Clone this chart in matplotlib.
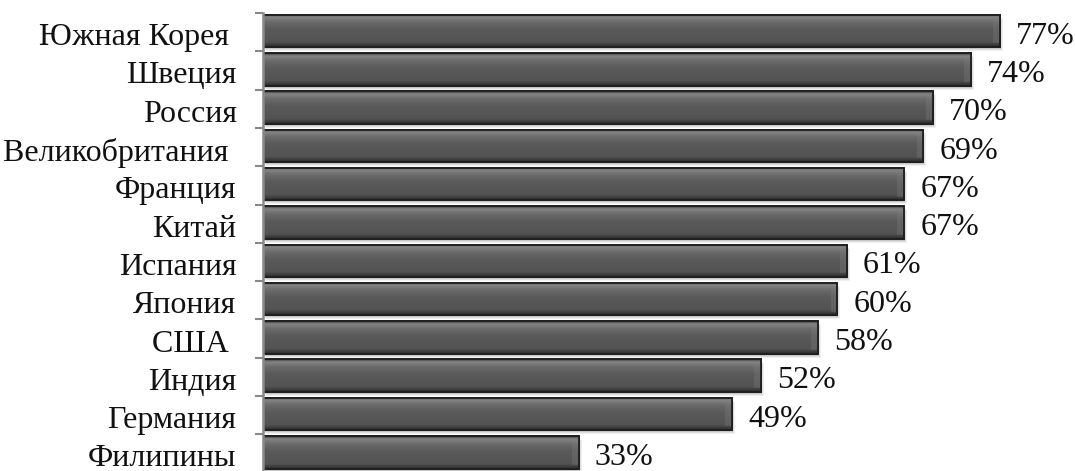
import numpy as np
import matplotlib
matplotlib.use("Agg")
import matplotlib.pyplot as plt
from matplotlib.colors import LinearSegmentedColormap
from matplotlib.patches import Rectangle
from matplotlib import transforms

countries = ["Южная Корея ", "Швеция", "Россия", "Великобритания ", "Франция", "Китай",
             "Испания", "Япония", "США ", "Индия", "Германия", "Филипины"]
shares = [77, 74, 70, 69, 67, 67, 61, 60, 58, 52, 49, 33]

plt.rcParams["font.family"] = ["Liberation Serif", "DejaVu Serif"]

fig = plt.figure(figsize=(10.75, 4.71), dpi=100)
step_px = 38.3
n = len(countries)
ax_h = step_px * n
ax = fig.add_axes([263 / 1075, (471 - 13 - ax_h) / 471, 812 / 1075, ax_h / 471])

y = np.arange(n)
bar_h = 0.85
bars = ax.barh(y - 0.03, shares, height=bar_h, color="#575757", edgecolor="#1e1e1e",
               linewidth=1.2, zorder=3)

ax.set_xlim(0, 812 / 9.57)
ax.set_ylim(n - 0.5, -0.5)

# vertical shading for the bevelled bar look
shade = LinearSegmentedColormap.from_list(
    "bevel",
    [(0.0, "#3a3a3a"), (0.08, "#868686"), (0.22, "#6c6c6c"),
     (0.45, "#5a5a5a"), (0.85, "#535353"), (1.0, "#2a2a2a")])
grad = np.linspace(0, 1, 64).reshape(-1, 1)

for b in bars:
    x0, y0 = b.get_x(), b.get_y()
    w, h = b.get_width(), b.get_height()
    # soft shadow under each bar
    for k, a in enumerate([0.10, 0.08, 0.06]):
        sh = Rectangle((x0, y0), w, h, facecolor="#000000", alpha=a,
                       edgecolor="none", zorder=1,
                       transform=transforms.offset_copy(ax.transData, fig=fig,
                                                        x=1 + k, y=-2 - k, units="dots"))
        ax.add_patch(sh)
    im = ax.imshow(grad, cmap=shade, aspect="auto", interpolation="bicubic",
                   extent=(x0, x0 + w, y0 + h, y0), zorder=4)
    im.set_clip_path(b)
    # faint bevel on the right end of the bar
    end_w = 0.7
    ax.add_patch(Rectangle((x0 + w - end_w, y0 + 0.1), end_w, h - 0.2,
                           facecolor="#808080", edgecolor="none", alpha=0.3, zorder=5))
    # outline on top
    ax.add_patch(Rectangle((x0, y0), w, h, facecolor="none", edgecolor="#1e1e1e",
                           linewidth=1.3, zorder=6))

label_off = transforms.offset_copy(ax.transData, fig=fig, x=16, y=-4, units="dots")
for yi, v in zip(y, shares):
    ax.text(v, yi, f"{v}%", transform=label_off, va="center", ha="left",
            fontsize=23, color="#111111")

ax.set_yticks(y)
ax.set_yticklabels(countries, fontsize=23, color="#111111")
ax.set_yticks(np.arange(-0.5, n, 1.0), minor=True)
ax.tick_params(axis="y", which="major", length=0, pad=19)
ax.tick_params(axis="y", which="minor", length=6, width=1.5, color="#888888")
ax.set_xticks([])
shift = transforms.ScaledTranslation(0, -2 / 100, fig.dpi_scale_trans)
for lbl in ax.get_yticklabels():
    lbl.set_transform(lbl.get_transform() + shift)

for side in ["top", "right", "bottom"]:
    ax.spines[side].set_visible(False)
ax.spines["left"].set_color("#888888")
ax.spines["left"].set_linewidth(1.8)
ax.spines["left"].set_zorder(7)

fig.savefig("out.png", dpi=100)
